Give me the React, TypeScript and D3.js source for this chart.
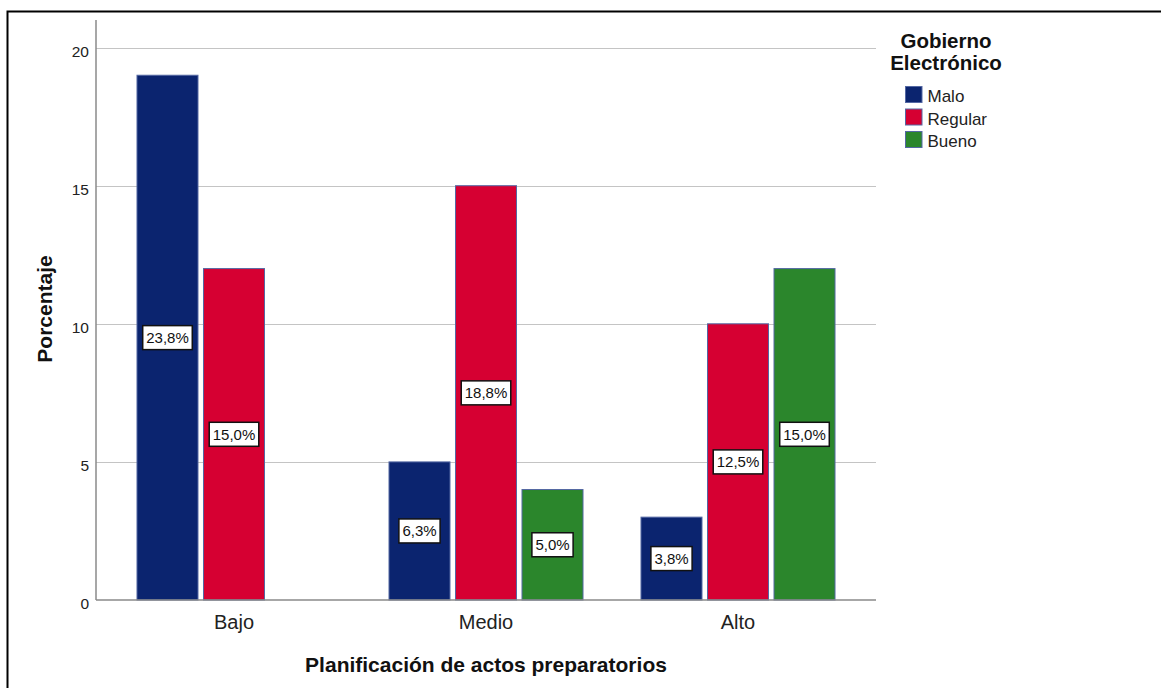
import { useEffect, useRef } from "react";
import * as d3 from "d3";

const CATEGORIES = ["Bajo", "Medio", "Alto"];
const SERIES = ["Malo", "Regular", "Bueno"];
const MALO = [19, 5, 3];
const REGULAR = [12, 15, 10];
const BUENO = [0, 4, 12];
const MALO_LABELS = ["23,8%", "6,3%", "3,8%"];
const REGULAR_LABELS = ["15,0%", "18,8%", "12,5%"];
const BUENO_LABELS = ["", "5,0%", "15,0%"];
const Y_TICKS = [0, 5, 10, 15, 20];

const COLORS: Record<string, string> = {
  Malo: "#0b246f",
  Regular: "#d60032",
  Bueno: "#2b862c",
};

const FONT = "'Liberation Sans', Arial, sans-serif";

export default function App() {
  const svgRef = useRef<SVGSVGElement>(null);

  useEffect(() => {
    if (!svgRef.current) return;
    const width = 1161;
    const height = 688;
    const svg = d3.select(svgRef.current);
    svg.selectAll("*").remove();
    svg.attr("width", width).attr("height", height);

    svg
      .append("rect")
      .attr("width", width)
      .attr("height", height)
      .attr("fill", "#fff");

    // outer frame (runs off right and bottom edges)
    svg
      .append("rect")
      .attr("x", 7.5)
      .attr("y", 11.5)
      .attr("width", width + 20)
      .attr("height", height + 20)
      .attr("fill", "none")
      .attr("stroke", "#000")
      .attr("stroke-width", 2);

    const plot = { left: 96, right: 876, top: 20, bottom: 600 };

    const y = d3.scaleLinear().domain([0, 21]).range([plot.bottom, plot.top]);
    const x0 = d3
      .scaleBand<string>()
      .domain(CATEGORIES)
      .range([plot.left, plot.right])
      .paddingInner(0)
      .paddingOuter(0.0476);
    const x1 = d3
      .scaleBand<string>()
      .domain(SERIES)
      .range([0, x0.bandwidth()])
      .paddingInner(0.0827)
      .paddingOuter(0.436);

    // gridlines
    svg
      .append("g")
      .selectAll("line")
      .data(Y_TICKS.filter((t) => t > 0))
      .join("line")
      .attr("x1", plot.left)
      .attr("x2", plot.right)
      .attr("y1", (d) => Math.round(y(d)) + 0.5)
      .attr("y2", (d) => Math.round(y(d)) + 0.5)
      .attr("stroke", "#c4c4c4")
      .attr("stroke-width", 1);

    // bars
    const seriesData: Record<string, number[]> = {
      Malo: MALO,
      Regular: REGULAR,
      Bueno: BUENO,
    };
    const seriesLabels: Record<string, string[]> = {
      Malo: MALO_LABELS,
      Regular: REGULAR_LABELS,
      Bueno: BUENO_LABELS,
    };
    const rows = CATEGORIES.flatMap((cat, i) =>
      SERIES.map((s) => ({
        cat,
        s,
        value: seriesData[s][i],
        label: seriesLabels[s][i],
      })),
    ).filter((d) => d.value > 0);

    svg
      .append("g")
      .selectAll("rect")
      .data(rows)
      .join("rect")
      .attr("x", (d) => (x0(d.cat) ?? 0) + (x1(d.s) ?? 0))
      .attr("y", (d) => y(d.value))
      .attr("width", x1.bandwidth())
      .attr("height", (d) => y(0) - y(d.value))
      .attr("fill", (d) => COLORS[d.s])
      .attr("stroke", "#5468a3")
      .attr("stroke-width", 1);

    // axes lines
    svg
      .append("line")
      .attr("x1", plot.left)
      .attr("x2", plot.left)
      .attr("y1", plot.top)
      .attr("y2", plot.bottom)
      .attr("stroke", "#8a8a8a")
      .attr("stroke-width", 1.5);
    svg
      .append("line")
      .attr("x1", plot.left)
      .attr("x2", plot.right)
      .attr("y1", plot.bottom)
      .attr("y2", plot.bottom)
      .attr("stroke", "#8a8a8a")
      .attr("stroke-width", 1.5);

    // y axis ticks
    const yAxis = svg
      .append("g")
      .attr("transform", `translate(${plot.left},0)`)
      .call(d3.axisLeft(y).tickValues(Y_TICKS).tickSize(0).tickPadding(7));
    yAxis.select(".domain").remove();
    yAxis
      .selectAll("text")
      .attr("dy", "0.55em")
      .attr("font-family", FONT)
      .attr("font-size", 15.5)
      .attr("fill", "#222");

    // x axis ticks
    const xAxis = svg
      .append("g")
      .attr("transform", `translate(0,${plot.bottom})`)
      .call(d3.axisBottom(x0).tickSize(0).tickPadding(15));
    xAxis.select(".domain").remove();
    xAxis
      .selectAll("text")
      .attr("font-family", FONT)
      .attr("font-size", 20)
      .attr("fill", "#222");

    // value labels
    const labels = svg
      .append("g")
      .selectAll("g")
      .data(rows)
      .join("g")
      .attr(
        "transform",
        (d) =>
          `translate(${(x0(d.cat) ?? 0) + (x1(d.s) ?? 0) + x1.bandwidth() / 2},${
            (y(0) + y(d.value)) / 2
          })`,
      );
    const boxes = labels.append("rect");
    const texts = labels
      .append("text")
      .attr("text-anchor", "middle")
      .attr("dy", "0.36em")
      .attr("font-family", FONT)
      .attr("font-size", 15)
      .attr("fill", "#111")
      .text((d) => d.label);
    texts.each(function (_, i) {
      const w = (this as SVGTextElement).getComputedTextLength();
      d3.select(boxes.nodes()[i])
        .attr("x", -w / 2 - 3.5)
        .attr("y", -12)
        .attr("width", w + 7)
        .attr("height", 24)
        .attr("fill", "#fff")
        .attr("stroke", "#111")
        .attr("stroke-width", 1.5);
    });

    // axis titles
    svg
      .append("text")
      .attr("transform", "translate(52,309) rotate(-90)")
      .attr("text-anchor", "middle")
      .attr("font-family", FONT)
      .attr("font-size", 21)
      .attr("font-weight", "bold")
      .attr("fill", "#111")
      .text("Porcentaje");
    svg
      .append("text")
      .attr("x", (plot.left + plot.right) / 2)
      .attr("y", 672)
      .attr("text-anchor", "middle")
      .attr("font-family", FONT)
      .attr("font-size", 21)
      .attr("font-weight", "bold")
      .attr("fill", "#111")
      .text("Planificación de actos preparatorios");

    // legend
    const legend = svg.append("g");
    ["Gobierno", "Electrónico"].forEach((line, i) => {
      legend
        .append("text")
        .attr("x", 946)
        .attr("y", 48 + i * 21.5)
        .attr("text-anchor", "middle")
        .attr("font-family", FONT)
        .attr("font-size", 20.5)
        .attr("font-weight", "bold")
        .attr("fill", "#111")
        .text(line);
    });
    SERIES.forEach((s, i) => {
      const row = legend
        .append("g")
        .attr("transform", `translate(905,${86 + i * 22.5})`);
      row
        .append("rect")
        .attr("x", 0.5)
        .attr("y", 0.5)
        .attr("width", 16.5)
        .attr("height", 16)
        .attr("fill", COLORS[s])
        .attr("stroke", "#5468a3")
        .attr("stroke-width", 1);
      row
        .append("text")
        .attr("x", 22.5)
        .attr("y", 16)
        .attr("font-family", FONT)
        .attr("font-size", 17)
        .attr("fill", "#222")
        .text(s);
    });
  }, []);

  return (
    <svg
      ref={svgRef}
      style={{ position: "absolute", left: 0, top: 0, display: "block" }}
    />
  );
}
